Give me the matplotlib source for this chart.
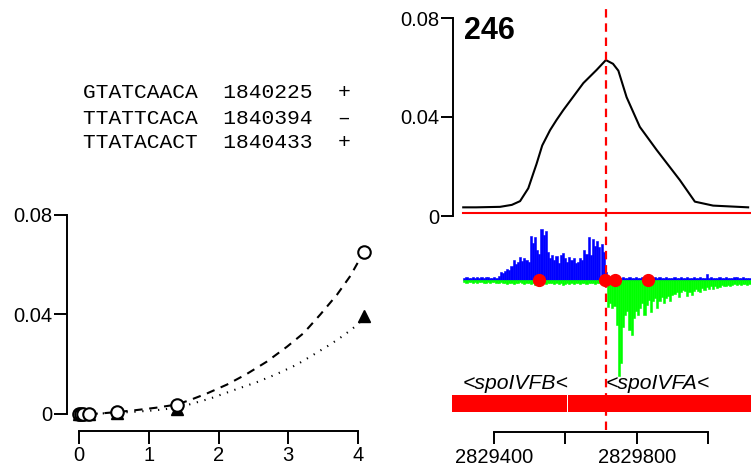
import numpy as np
import matplotlib
matplotlib.use("Agg")
import matplotlib.pyplot as plt

plt.rcParams['font.family'] = ['Liberation Sans', 'DejaVu Sans']

# --- motif table (top left) ---
motifs = ["GTATCAACA", "TTATTCACA", "TTATACACT"]
motif_pos = [1840225, 1840394, 1840433]
motif_strand = ["+", "\u2013", "+"]

# --- left scatter: observed vs fitted ---
circ_x = [0.0, 0.03, 0.06, 0.15, 0.55, 1.4, 4.08]
circ_y = [0.0, 0.0, 0.0, 0.0, 0.001, 0.0037, 0.065]
tri_x = [0.0, 0.03, 0.06, 0.15, 0.55, 1.4, 4.08]
tri_y = [0.0, 0.0, 0.0, 0.0, 0.0005, 0.002, 0.0392]
dash_x = [0.15, 0.3, 0.55, 0.8, 1.1, 1.4, 1.59, 1.83, 2.12, 2.4, 2.69, 2.98, 3.22, 3.46, 3.7, 3.89, 4.03, 4.08]
dash_y = [0.0, 0.0002, 0.0008, 0.0015, 0.0025, 0.0038, 0.0056, 0.0082, 0.0118, 0.016, 0.021, 0.027,
          0.0325, 0.040, 0.048, 0.0555, 0.0625, 0.065]
dot_x = [0.0, 0.3, 0.55, 0.8, 1.1, 1.4, 1.59, 1.88, 2.21, 2.55, 2.83, 3.12, 3.36, 3.6, 3.79, 3.98, 4.08]
dot_y = [0.0, 0.0002, 0.0005, 0.0009, 0.0015, 0.0025, 0.0039, 0.0062, 0.0095, 0.0128, 0.016, 0.0198,
         0.0238, 0.0279, 0.0315, 0.0356, 0.0385]

# --- right: profile around peak 246 ---
peak_label = "246"
peak_pos = 2829713
prof_x = [2829314, 2829350, 2829417, 2829450, 2829473, 2829496, 2829510, 2829519, 2829535, 2829557,
          2829575, 2829594, 2829650, 2829687, 2829713, 2829733, 2829748, 2829771, 2829808, 2829855,
          2829920, 2829962, 2830013, 2830111]
prof_y = [0.0035, 0.0035, 0.0037, 0.0045, 0.006, 0.0112, 0.0172, 0.021, 0.0285, 0.0347,
          0.0388, 0.0428, 0.0537, 0.059, 0.063, 0.0615, 0.0587, 0.048, 0.036, 0.0267,
          0.0145, 0.0058, 0.0042, 0.0035]
ctrl_x = [2829314, 2830119]
ctrl_y = [0.0012, 0.0012]

# strand signal, 6 bp bins starting here
sig_start = 2829314
sig_bin = 6
plus_sig = [2, 3, 2, 2, 3, 2, 3, 2, 3, 2, 3, 3, 2, 2, 3, 2, 4, 8, 7, 9,
            11, 10, 14, 20, 16, 18, 23, 19, 22, 20, 18, 43, 36, 42, 30, 26, 50, 44, 48, 28,
            22, 25, 20, 24, 17, 25, 27, 22, 18, 23, 20, 22, 17, 18, 22, 20, 30, 26, 42, 25,
            40, 33, 38, 32, 35, 28, 8,
            2, 1, 2, 2, 3, 2, 2, 3, 2, 2, 3, 2, 2, 3, 2, 2, 3, 2, 2, 3,
            2, 2, 3, 2, 3, 2, 2, 3, 2, 2, 2, 3, 2, 2, 3, 2, 2, 3, 2, 2,
            3, 2, 2, 3, 2, 2, 6, 2, 3, 2, 2, 2, 3, 2, 2, 3, 2, 2, 2, 3,
            3, 2, 2, 3, 2, 2, 2]
minus_sig = [2, 3, 2, 2, 3, 2, 3, 2, 2, 3, 3, 2, 3, 2, 2, 3, 3, 2, 3, 3,
             4, 3, 3, 4, 3, 3, 2, 3, 4, 3, 3, 4, 3, 5, 3, 3, 2, 3, 4, 3,
             3, 3, 4, 3, 4, 3, 5, 4, 3, 4, 3, 4, 3, 3, 4, 3, 3, 4, 3, 3,
             3, 4, 3, 3, 4, 3, 5,
             26, 22, 27, 25, 44, 94, 81, 46, 34, 30, 49, 54, 37, 30, 34, 27, 22, 34, 24, 20,
             31, 21, 18, 27, 21, 17, 22, 18, 16, 21, 15, 14, 12, 17, 12, 10, 11, 16, 12, 15,
             11, 9, 11, 12, 8, 10, 7, 9, 6, 9, 6, 8, 7, 5, 6, 6, 5, 6, 5, 4,
             5, 4, 5, 4, 4, 5, 4]
site_x = [2829525, 2829710, 2829738, 2829830]
site_y = [0, 0, 0, 0]

# genes
gene_names = ["<spoIVFB<", "<spoIVFA<"]
gene_start = [2829282, 2829608]
gene_end = [2829604, 2830160]
label_x = [2829313, 2829713]

xticks_r = [2829400, 2829600, 2829800, 2830000]
xticklabels_r = ["2829400", "", "2829800", ""]

W, H = 751, 471
fig = plt.figure(figsize=(W / 100, H / 100), dpi=100)


def px_axes(left, top, right, bottom):
    return fig.add_axes([left / W, 1 - bottom / H, (right - left) / W, (bottom - top) / H])


# motif text
for i in range(len(motifs)):
    row = "%s  %d  %s" % (motifs[i], motif_pos[i], motif_strand[i])
    fig.text(83 / W, 1 - (93 + 25 * i) / H, row, family=['Liberation Mono', 'DejaVu Sans Mono'],
             fontsize=15.3, va='center', ha='left')

# left plot
ax = px_axes(60, 200, 380, 440)
ax.plot(dash_x, dash_y, color='black', lw=1.5, dashes=(4, 3.2))
ax.plot(dot_x, dot_y, color='black', lw=1.5, dashes=(0.6, 3.2))
ax.plot(tri_x, tri_y, '^', color='black', ms=8, zorder=3)
ax.plot(circ_x, circ_y, 'o', mfc='white', mec='black', mew=1.5, ms=9, zorder=4)
ax.set_xlim(-0.272, 4.315)
ax.set_ylim(-0.01045, 0.086)
for s in ['top', 'right']:
    ax.spines[s].set_visible(False)
ax.spines['left'].set_position(('data', -0.172))
ax.spines['bottom'].set_position(('data', -0.0068))
ax.spines['left'].set_bounds(0, 0.08)
ax.spines['bottom'].set_bounds(0, 4)
for s in ['left', 'bottom']:
    ax.spines[s].set_linewidth(1.4)
ax.set_yticks([0, 0.04, 0.08])
ax.set_yticklabels(["0", "0.04", "0.08"])
ax.set_xticks([0, 1, 2, 3, 4])
ax.tick_params(axis='y', length=9.5, width=1.4, pad=1, labelsize=14.5)
ax.tick_params(axis='x', length=9, width=1.4, pad=2, labelsize=14.5)
ax.patch.set_alpha(0)

# right panels share x range
rx0, rx1 = 2829277, 2830119

# top profile
at = px_axes(450, 18, 751, 216)
at.plot(prof_x, prof_y, color='black', lw=1.5)
at.plot(ctrl_x, ctrl_y, color='red', lw=1.5)
at.set_xlim(rx0, rx1)
at.set_ylim(0, 0.08)
for s in ['top', 'right', 'bottom']:
    at.spines[s].set_visible(False)
at.spines['left'].set_position(('data', 2829285))
at.spines['left'].set_linewidth(1.4)
at.set_xticks([])
at.set_yticks([0, 0.04, 0.08])
at.set_yticklabels(["0", "0.04", "0.08"])
at.tick_params(axis='y', length=9, width=1.4, pad=1, labelsize=14.5)
at.text(0.045, 0.892, peak_label, transform=at.transAxes, fontsize=22, fontweight='bold',
        va='baseline', ha='left')
at.patch.set_alpha(0)

# strand signal
asig = px_axes(450, 222, 751, 382)
edges = sig_start + sig_bin * np.arange(len(plus_sig))
asig.bar(edges, plus_sig, width=sig_bin, align='edge', color='blue', edgecolor='blue', lw=0.4)
asig.bar(edges, -np.array(minus_sig), width=sig_bin, align='edge', color='#00ff00',
         edgecolor='#00ff00', lw=0.4)
asig.plot(site_x, site_y, 'o', color='red', ms=8.5, zorder=5)
asig.set_xlim(rx0, rx1)
asig.set_ylim(-100, 57)
asig.axis('off')

# genes + genome axis
ag = px_axes(450, 360, 751, 432)
for i in range(len(gene_names)):
    ag.barh(28.5, gene_end[i] - gene_start[i], left=gene_start[i], height=17, color='red',
            edgecolor='none')
    ag.text(label_x[i], 43, gene_names[i], fontsize=15.2, style='italic', va='baseline', ha='left')
ag.set_xlim(rx0, rx1)
ag.set_ylim(0, 72)
for s in ['top', 'right', 'left']:
    ag.spines[s].set_visible(False)
ag.spines['bottom'].set_bounds(xticks_r[0], xticks_r[-1])
ag.spines['bottom'].set_linewidth(1.4)
ag.set_yticks([])
ag.set_xticks(xticks_r)
ag.set_xticklabels(xticklabels_r)
ag.tick_params(axis='x', length=8.5, width=1.4, pad=3, labelsize=14.5)
ag.patch.set_alpha(0)

# dashed marker at the peak position, across the whole right side
ov = px_axes(450, 6, 751, 430)
ov.set_xlim(rx0, rx1)
ov.set_ylim(0, 1)
ov.axvline(peak_pos, color='red', lw=1.6, dashes=(3.8, 2.6))
ov.axis('off')

plt.savefig("out.png", dpi=100)
